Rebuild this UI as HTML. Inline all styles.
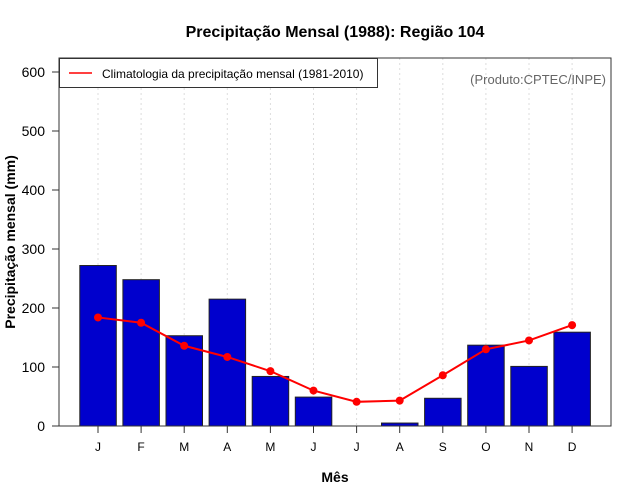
<!DOCTYPE html>
<html><head><meta charset="utf-8"><style>
body{margin:0;background:#fff;}
svg{display:block;font-family:"Liberation Sans",Arial,sans-serif;}
</style></head><body>
<svg id="chart" width="640" height="500">
<text x="335" y="37" text-anchor="middle" font-size="16" font-weight="bold">Precipitação Mensal (1988): Região 104</text>
<text x="335" y="482" text-anchor="middle" font-size="14" font-weight="bold">Mês</text>
<text transform="translate(15,242) rotate(-90)" text-anchor="middle" font-size="14" font-weight="bold">Precipitação mensal (mm)</text>
<g id="grid"></g><g id="bars"></g><g id="line"></g><g id="axes"></g>
<rect x="59" y="58" width="552" height="368" fill="none" stroke="#333" stroke-width="1"/>
<g>
<rect x="59.5" y="58.5" width="318" height="29" fill="#fff" stroke="#333"/>
<line x1="69" y1="73" x2="92" y2="73" stroke="#f00" stroke-width="1.5"/>
<text x="102" y="78" font-size="12">Climatologia da precipitação mensal (1981-2010)</text>
</g>
<text x="606" y="84" text-anchor="end" font-size="13" fill="#666">(Produto:CPTEC/INPE)</text>
</svg>
<script>
const months = ["J","F","M","A","M","J","J","A","S","O","N","D"];
const precip1988 = [272,248,153,215,84,49,0,5,47,137,101,159];
const climatology = [184,175,136,117,93,60,41,43,86,130,145,171];
const yTicks = [0,100,200,300,400,500,600];
const NS="http://www.w3.org/2000/svg";
const x0=59, step=43.1, y0=426, k=0.59;
function xc(i){return x0+39+i*step;}
function y(v){return y0-v*k;}
function mk(tag,attrs,parent){const e=document.createElementNS(NS,tag);for(const a in attrs)e.setAttribute(a,attrs[a]);document.getElementById(parent).appendChild(e);return e;}
months.forEach((m,i)=>{
  const g=mk("line",{x1:xc(i),x2:xc(i),y1:58,y2:426,stroke:"#ddd","stroke-dasharray":"2,3"},"grid");
  
  
  const t=mk("line",{x1:xc(i),x2:xc(i),y1:426,y2:433,stroke:"#333"},"axes");
  
  
  const l=mk("text",{x:xc(i),y:451,"text-anchor":"middle","font-size":"12"},"axes");
  l.textContent=m;
  
  
});
yTicks.forEach(v=>{
  const t=mk("line",{x1:52,x2:59,y1:y(v),y2:y(v),stroke:"#333"},"axes");
  
  
  const l=mk("text",{x:45,y:y(v)+5,"text-anchor":"end","font-size":"14"},"axes");
  l.textContent=v;
  
  
});
precip1988.forEach((v,i)=>{
  const b=mk("rect",{x:xc(i)-18.2,y:y(v),width:36.5,height:v*k,fill:"#0000cd",stroke:"#222","stroke-width":"1"},"bars");
  
  
});
const pl=mk("polyline",{points:climatology.map((v,i)=>xc(i)+","+y(v)).join(" "),fill:"none",stroke:"#f00","stroke-width":"2"},"line");


climatology.forEach((v,i)=>{
  const c=mk("circle",{cx:xc(i),cy:y(v),r:4,fill:"#f00"},"line");
  
  
});
</script>
</body></html>
